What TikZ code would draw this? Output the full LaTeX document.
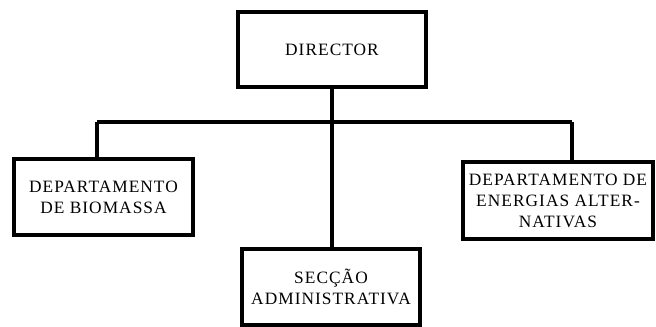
\documentclass[tikz,border=0pt]{standalone}
\usepackage{fontspec}
\setmainfont{Liberation Serif}[LetterSpace=6]
\usepackage{tikz}

\begin{document}
\begin{tikzpicture}[x=0.75pt,y=-0.75pt,line width=2.6pt,
  every node/.style={font=\fontsize{13}{15.75}\selectfont},
  unitbox/.style={rectangle, draw, align=center, inner sep=0pt}]
\useasboundingbox (0,0) rectangle (656,327);
\node (director) [unitbox, minimum width=188*0.75pt, minimum height=75*0.75pt] at (332,49.5) {DIRECTOR};
\node (biomassa) [unitbox, minimum width=179*0.75pt, minimum height=76*0.75pt] at (103.5,197) {DEPARTAMENTO\\DE BIOMASSA};
\node (energias) [unitbox, minimum width=190*0.75pt, minimum height=77*0.75pt] at (558,200.5) {DEPARTAMENTO DE\\ENERGIAS ALTER-\\NATIVAS};
\node (seccao) [unitbox, minimum width=178*0.75pt, minimum height=76*0.75pt] at (331,287) {SECÇÃO\\ADMINISTRATIVA};

\coordinate (busleft) at (97,122);
\coordinate (busright) at (572,122);
\draw (busleft) -- (busright);
\draw (busleft) -- (busleft |- biomassa.north);
\draw (busright) -- (busright |- energias.north);
\draw (director.south) -- (director.south |- seccao.north);
\end{tikzpicture}
\end{document}
